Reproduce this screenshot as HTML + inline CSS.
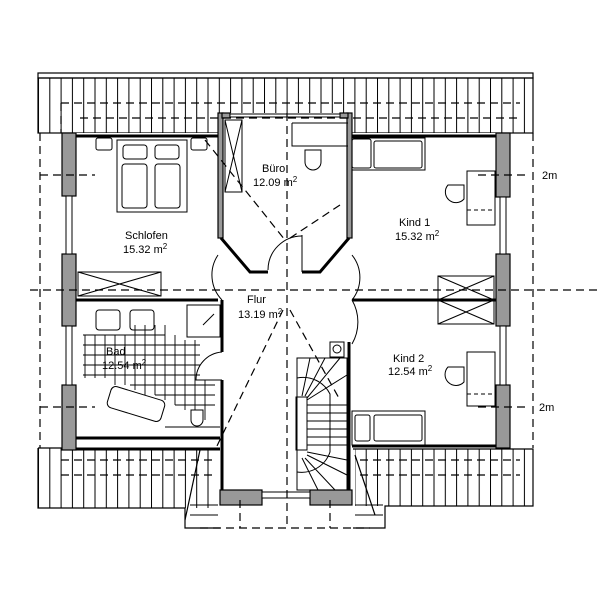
<!DOCTYPE html>
<html><head><meta charset="utf-8"><style>
html,body{margin:0;padding:0;background:#fff;width:600px;height:600px;overflow:hidden}
text{font-family:"Liberation Sans",sans-serif;font-size:11px;fill:#000}
</style></head><body>
<svg width="600" height="600" viewBox="0 0 600 600" xmlns="http://www.w3.org/2000/svg">
<defs>
<pattern id="h" x="38" y="0" width="11.3" height="10" patternUnits="userSpaceOnUse">
<line x1="0.5" y1="0" x2="0.5" y2="10" stroke="#000" stroke-width="1"/></pattern>
</defs>
<g fill="none" stroke="#000" stroke-width="1.2">
<rect x="38" y="73" width="495" height="5" fill="#fff"/>
<rect x="38" y="78" width="495" height="55" fill="url(#h)"/>
<rect x="38" y="448" width="180" height="60" fill="url(#h)" stroke="none"/>
<path d="M38 448 H220 M38 448 V508 H185 V528 H220"/>
<rect x="355" y="449" width="178" height="57" fill="url(#h)" stroke="none"/>
<path d="M353 449 H533 V506 H385 V528 H353"/>
<path d="M200 450 L185 520 M355 455 L375 515"/>
<g stroke-width="1">
<line x1="190" y1="515" x2="218" y2="515"/><line x1="190" y1="505" x2="218" y2="505"/>
<line x1="355" y1="515" x2="383" y2="515"/><line x1="355" y1="505" x2="383" y2="505"/>
</g>
</g>
<rect x="76" y="133" width="420" height="315" fill="#fff"/>
<rect x="220" y="113" width="130" height="25" fill="#fff"/>
<rect x="220" y="440" width="130" height="52" fill="#fff"/>
<g fill="#999" stroke="#000" stroke-width="1.2">
<rect x="62" y="133" width="14" height="63"/>
<rect x="62" y="254" width="14" height="72"/>
<rect x="62" y="385" width="14" height="65"/>
<rect x="496" y="133" width="14" height="64"/>
<rect x="496" y="254" width="14" height="72"/>
<rect x="496" y="385" width="14" height="63"/>
<rect x="220" y="490" width="42" height="15"/>
<rect x="310" y="490" width="42" height="15"/>
<rect x="218" y="113" width="5" height="125"/>
<rect x="347" y="113" width="5" height="125"/>
<rect x="222" y="113" width="8" height="5"/>
<rect x="340" y="113" width="8" height="5"/>
</g>
<g fill="#fff" stroke="#000" stroke-width="1">
<rect x="66" y="196" width="6" height="58"/><rect x="66" y="326" width="6" height="59"/>
<rect x="500" y="197" width="6" height="57"/><rect x="500" y="326" width="6" height="59"/>
<rect x="262" y="492" width="48" height="6"/><rect x="230" y="114" width="110" height="3"/>
</g>
<g fill="none" stroke="#000" stroke-width="3">
<path d="M76 136 H218 M352 136 H496"/>
<path d="M76 300 H218 M352 300 H496"/>
<path d="M76 438 H220 M76 449 H220"/>
<path d="M352 446 H496"/>
<path d="M222 300 V352 M222 380 V490"/>
<path d="M349 342 V490"/>
<path d="M221 238 L250 272 H268 M302 272 H320 L349 238"/>
</g>
<g fill="none" stroke="#000" stroke-width="1">
<path d="M302 235 V272"/><path d="M268 270 A34 34 0 0 1 302 236"/>
<path d="M218 255 A36 36 0 0 0 222 300"/><path d="M352 255 A36 36 0 0 1 352 300"/>
<path d="M352 300 A44 44 0 0 1 352 344"/>
<path d="M222 352 A28 28 0 0 0 196 380 L222 380"/>
<rect x="225" y="120" width="17" height="72"/><path d="M225 120 L242 192 M242 120 L225 192"/>
<rect x="78" y="272" width="83" height="24"/><path d="M78 272 L161 296 M161 272 L78 296"/>
<rect x="438" y="276" width="56" height="24"/><path d="M438 276 L494 300 M494 276 L438 300"/>
<rect x="438" y="300" width="56" height="24"/><path d="M438 300 L494 324 M494 300 L438 324"/>
<rect x="117" y="140" width="70" height="72"/>
<rect x="123" y="145" width="24" height="14" rx="3"/><rect x="155" y="145" width="24" height="14" rx="3"/>
<rect x="122" y="164" width="25" height="44" rx="3"/><rect x="155" y="164" width="25" height="44" rx="3"/>
<rect x="96" y="138" width="16" height="12" rx="2"/><rect x="191" y="138" width="16" height="12" rx="2"/>
<path d="M292 123 H348 M292 123 V146 H348"/><path d="M305 150 V162 A8 8 0 0 0 321 162 V150 Z"/>
<rect x="352" y="139" width="19" height="29" rx="2"/><rect x="374" y="141" width="48" height="27" rx="2"/>
<rect x="352" y="138" width="73" height="32"/>
<rect x="467" y="171" width="28" height="54"/><path d="M467 210 H495" stroke-dasharray="4 3"/>
<path d="M464 185 H448 A8 8 0 0 0 464 199 Z"/>
<rect x="352" y="411" width="73" height="34"/><rect x="355" y="415" width="15" height="26" rx="2"/><rect x="374" y="415" width="48" height="26" rx="2"/>
<rect x="467" y="352" width="28" height="54"/><path d="M467 394 H495" stroke-dasharray="4 3"/>
<path d="M464 367 H448 A8 8 0 0 0 464 382 Z"/>
<rect x="96" y="310" width="24" height="20" rx="3"/><rect x="130" y="310" width="24" height="20" rx="3"/>
<rect x="187" y="305" width="33" height="32"/>
<path d="M203 325 L214 314"/>
<rect x="108" y="393" width="56" height="22" rx="5" transform="rotate(17 136 404)"/>
<path d="M191 410 H203 V420 A6 6 0 0 1 191 420 Z"/>
<path d="M165 427 H220"/>
<g stroke-width="0.9">
<path d="M83 335 H165 M83 345 H200 M83 355 H200 M83 365 H200 M83 375 H200 M130 385 H215 M155 395 H215 M175 405 H215"/>
<path d="M85 335 V378 M95 335 V378 M105 335 V378 M115 335 V385 M125 335 V385 M135 325 V390 M145 325 V395 M155 325 V395 M165 325 V400 M175 335 V405 M185 340 V410 M195 340 V410 M205 380 V420"/>
</g>
<rect x="297" y="358" width="50" height="132"/>
<rect x="296" y="397" width="11" height="53"/>
<rect x="330" y="342" width="14" height="15"/><circle cx="337" cy="349" r="4"/>
<path d="M307 405 H347 M307 413 H347 M307 421 H347 M307 429 H347 M307 437 H347 M307 445 H347"/>
<path d="M307 400 L347 375 M307 398 L340 358 M305 396 L325 358 M302 396 L310 358 M307 452 L347 460 M307 455 L347 475 M305 458 L335 490 M302 458 L318 490"/>
<path d="M297 378 A30 30 0 0 1 330 394 V452 A30 30 0 0 1 297 472"/>
</g>
<g fill="none" stroke="#000" stroke-width="1.2" stroke-dasharray="8 5">
<path d="M30 290 H600"/>
<path d="M40 133 V448 M533 133 V448"/>
<path d="M61 103 H520 M80 118 H520 M61 103 V133"/>
<path d="M61 460 H215 M61 475 H215 M360 460 H520 M360 475 H520"/>
<path d="M40 175 H95 M478 175 H530 M40 407 H95 M478 407 H530"/>
<path d="M287 113 V528 M240 500 V528 M330 500 V528 M200 528 H370"/>
<path d="M205 140 L285 240 M340 205 L287 240 M283 310 L215 450 M290 310 L340 400"/>
</g>
<text x="262" y="172">Büro</text>
<text x="253" y="186">12.09 m<tspan font-size="8" dy="-4">2</tspan></text>
<text x="125" y="239">Schlofen</text>
<text x="123" y="253">15.32 m<tspan font-size="8" dy="-4">2</tspan></text>
<text x="399" y="226">Kind 1</text>
<text x="395" y="240">15.32 m<tspan font-size="8" dy="-4">2</tspan></text>
<text x="247" y="303">Flur</text>
<text x="238" y="318">13.19 m<tspan font-size="8" dy="-4">2</tspan></text>
<text x="106" y="355">Bad</text>
<text x="102" y="369">12.54 m<tspan font-size="8" dy="-4">2</tspan></text>
<text x="393" y="362">Kind 2</text>
<text x="388" y="375">12.54 m<tspan font-size="8" dy="-4">2</tspan></text>
<text x="542" y="179">2m</text>
<text x="539" y="411">2m</text>
</svg>
</body></html>
